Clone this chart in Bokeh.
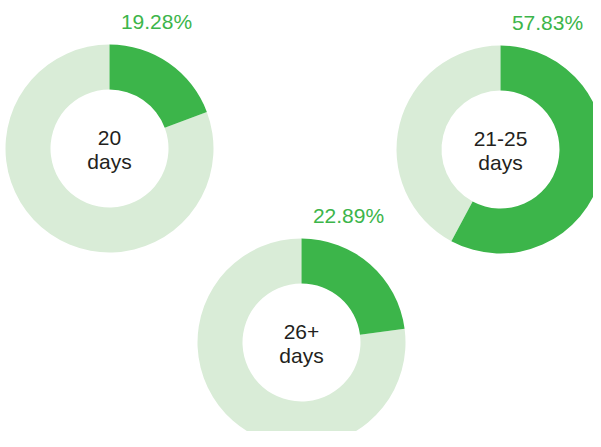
import math
from bokeh.plotting import figure
from bokeh.models import Range1d, ColumnDataSource
from bokeh.core.properties import value
from bokeh.embed import file_html
from bokeh.resources import INLINE

# ---- data ----
groups = ["20", "21-25", "26+"]
group_unit = ["days", "days", "days"]
share_pct = [19.28, 57.83, 22.89]

# ---- layout (pixel coordinates of donut centres within the figure) ----
W, H = 593, 431
cx_page = [109, 500, 301]
cy_page = [148, 149, 342]
R_OUT, R_IN = 104, 59

GREEN = "#3cb54a"
LIGHT = "#d9ecd7"
DARK = "#231f20"
FONT = "Liberation Sans"

def X(px):
    return px

def Y(py):
    return H - py

p = figure(width=W, height=H, output_backend="svg", toolbar_location=None,
           x_range=Range1d(0, W), y_range=Range1d(0, H), min_border=0)
p.axis.visible = False
p.grid.visible = False
p.outline_line_color = None
p.background_fill_color = "white"
p.border_fill_color = "white"

xs = [X(v) for v in cx_page]
ys = [Y(v) for v in cy_page]
top = math.pi / 2
g_start = [top - f / 100 * 2 * math.pi for f in share_pct]
g_end = [top] * 3
l_start = [top] * 3
l_end = [s + 2 * math.pi for s in g_start]

src = ColumnDataSource(dict(x=xs, y=ys, gs=g_start, ge=g_end, ls=l_start, le=l_end,
                            grp=groups, unit=group_unit,
                            pct=[f"{v:.2f}%" for v in share_pct],
                            y1=[v + 11 for v in ys], y2=[v - 13 for v in ys],
                            px=[v + 47 for v in xs], py=[v + 127 for v in ys]))

p.annular_wedge(x="x", y="y", inner_radius=R_IN, outer_radius=R_OUT,
                start_angle="ls", end_angle="le", fill_color=LIGHT, line_color=None,
                source=src)
p.annular_wedge(x="x", y="y", inner_radius=R_IN, outer_radius=R_OUT,
                start_angle="gs", end_angle="ge", fill_color=GREEN, line_color=None,
                source=src)

p.text(x="x", y="y1", text="grp", text_align="center", text_baseline="alphabetic",
       text_font=value(FONT), text_font_size="21px", text_color=DARK, source=src)
p.text(x="x", y="y2", text="unit", text_align="center", text_baseline="alphabetic",
       text_font=value(FONT), text_font_size="21px", text_color=DARK, source=src)
p.text(x="px", y="py", text="pct", text_align="center", text_baseline="alphabetic",
       text_font=value(FONT), text_font_size="21px", text_color=GREEN, source=src)

open("out.html", "w").write(file_html(p, INLINE))
